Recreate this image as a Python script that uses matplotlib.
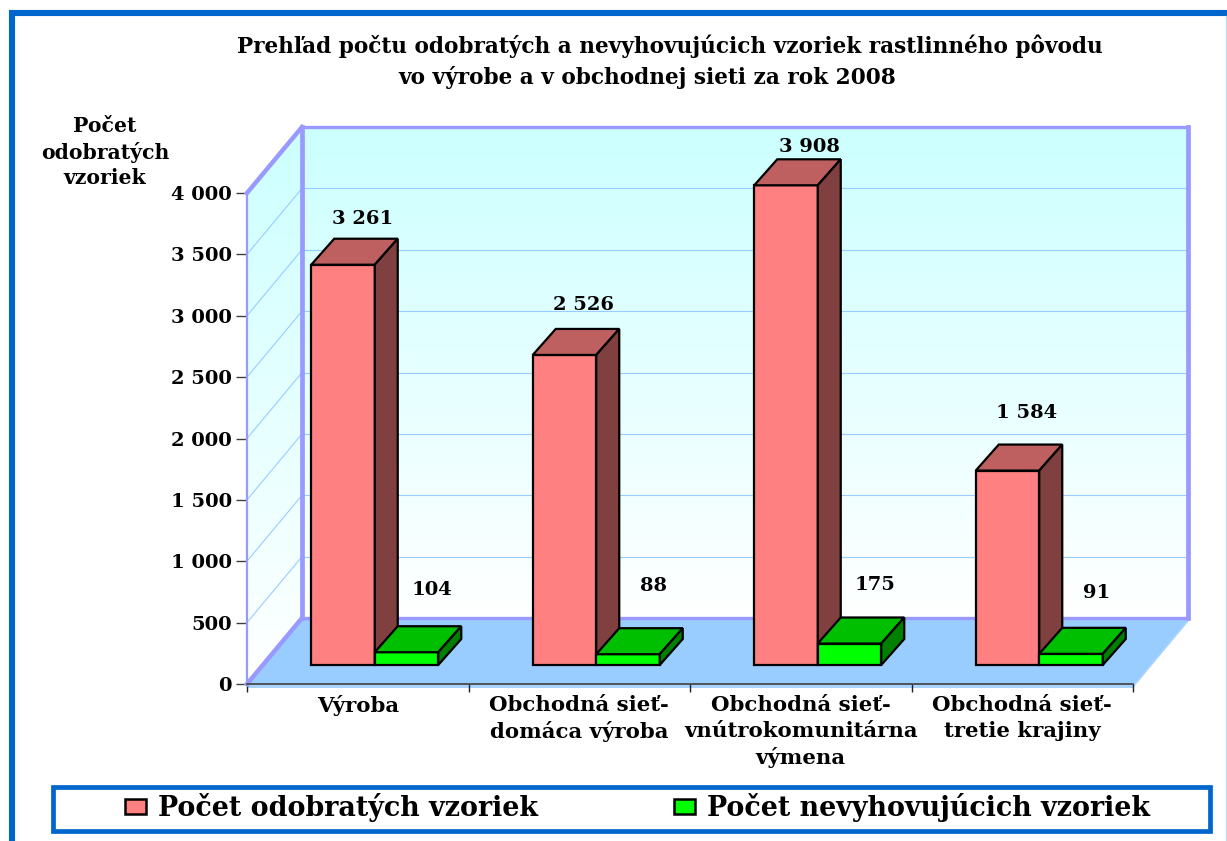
import matplotlib

matplotlib.use("Agg")
import matplotlib.pyplot as plt
import numpy as np
from matplotlib.patches import Polygon, Rectangle

CATEGORIES = [
    "Výroba",
    "Obchodná sieť-\ndomáca výroba",
    "Obchodná sieť-\nvnútrokomunitárna\nvýmena",
    "Obchodná sieť-\ntretie krajiny",
]
TAKEN_SAMPLES = [3261, 2526, 3908, 1584]
FAILED_SAMPLES = [104, 88, 175, 91]
TAKEN_LABELS = ["3 261", "2 526", "3 908", "1 584"]
FAILED_LABELS = ["104", "88", "175", "91"]
Y_TICKS = [0, 500, 1000, 1500, 2000, 2500, 3000, 3500, 4000]
Y_TICK_LABELS = ["0", "500", "1 000", "1 500", "2 000", "2 500", "3 000", "3 500", "4 000"]
TITLE_LINES = [
    "Prehľad počtu odobratých a nevyhovujúcich vzoriek rastlinného pôvodu",
    "vo výrobe a v obchodnej sieti za rok 2008",
]
Y_TITLE = "Počet\nodobratých\nvzoriek"
LEGEND_LABELS = ["Počet odobratých vzoriek", "Počet nevyhovujúcich vzoriek"]

W, H = 1227, 841
X0, X1 = 247, 1133
Y0, Y1 = 684, 193
PX_X = 4 / (X1 - X0)
PX_Y = 4000 / (Y0 - Y1)
WALL_DX, WALL_DY = 55 * PX_X, 66 * PX_Y
BAR_DX, BAR_DY = 23 * PX_X, 26 * PX_Y
BAR_WIDTH = 63.5 * PX_X
BAR_SHIFT_X, BAR_BASE = 17 * PX_X, 19 * PX_Y

# pixel offsets of the labels from the bars they belong to
TAKEN_GAPS = [20, 24, 12, 32]
FAILED_GAPS = [36, 42, 33, 35]
TAKEN_SHIFTS = [51, 51, 55, 51]

BORDER = "#0066CC"
WALL_EDGE = "#9999FF"
GRID = "#99CCFF"
FLOOR = "#99CCFF"
SERIF = "DejaVu Serif"


def box(ax, x, value, front, top, side):
    """Draw one 3D looking bar from its three visible faces."""
    left = x + BAR_SHIFT_X
    right = left + BAR_WIDTH
    base = BAR_BASE
    head = base + value
    faces = [
        ([(left, base), (right, base), (right, head), (left, head)], front),
        (
            [
                (left, head),
                (right, head),
                (right + BAR_DX, head + BAR_DY),
                (left + BAR_DX, head + BAR_DY),
            ],
            top,
        ),
        (
            [
                (right, base),
                (right + BAR_DX, base + BAR_DY),
                (right + BAR_DX, head + BAR_DY),
                (right, head),
            ],
            side,
        ),
    ]
    for points, color in faces:
        ax.add_patch(
            Polygon(
                points,
                facecolor=color,
                edgecolor="black",
                lw=1.6,
                zorder=5,
                joinstyle="miter",
                clip_on=False,
            )
        )
    return left


def draw_walls(fig, ax):
    gradient = np.linspace(0, 1, 256).reshape(-1, 1)
    cmap = matplotlib.colors.LinearSegmentedColormap.from_list("wall", ["#CCFFFF", "#FFFFFF"])
    ax.imshow(
        gradient,
        cmap=cmap,
        aspect="auto",
        extent=(WALL_DX, 4 + WALL_DX, WALL_DY, 4000 + WALL_DY),
        zorder=0,
        clip_on=False,
    )
    side = Polygon(
        [(0, 0), (WALL_DX, WALL_DY), (WALL_DX, 4000 + WALL_DY), (0, 4000)],
        transform=ax.transData,
        facecolor="none",
        edgecolor="none",
        clip_on=False,
    )
    ax.add_patch(side)
    side_image = ax.imshow(
        gradient,
        cmap=cmap,
        aspect="auto",
        extent=(0, WALL_DX, 0, 4000 + WALL_DY),
        zorder=0,
    )
    side_image.set_clip_box(fig.bbox)
    side_image.set_clip_path(side)

    # floor with a thin slab showing below and right of it
    slab = 4 * PX_Y
    ax.add_patch(
        Polygon(
            [
                (0, -slab),
                (4, -slab),
                (4 + WALL_DX, WALL_DY - slab),
                (4 + WALL_DX, WALL_DY),
                (WALL_DX, WALL_DY),
                (0, 0),
            ],
            facecolor="#A8D2FF",
            edgecolor="none",
            zorder=1,
            clip_on=False,
        )
    )
    ax.add_patch(
        Polygon(
            [(0, 0), (WALL_DX, WALL_DY), (4 + WALL_DX, WALL_DY), (4, 0)],
            facecolor=FLOOR,
            edgecolor=FLOOR,
            lw=1,
            zorder=1,
            clip_on=False,
        )
    )
    for tick in Y_TICKS[1:]:
        ax.plot([WALL_DX, 4 + WALL_DX], [tick + WALL_DY] * 2, color=GRID, lw=0.8, zorder=1, clip_on=False)
        ax.plot([0, WALL_DX], [tick, tick + WALL_DY], color=GRID, lw=0.8, zorder=1, clip_on=False)
    edge = dict(color=WALL_EDGE, zorder=2, clip_on=False, solid_joinstyle="miter")
    ax.plot([WALL_DX, 4 + WALL_DX], [4000 + WALL_DY] * 2, lw=2.4, **edge)
    ax.plot([WALL_DX, 4 + WALL_DX], [WALL_DY, WALL_DY], lw=2.4, **edge)
    ax.plot([WALL_DX, WALL_DX], [WALL_DY, 4000 + WALL_DY], lw=3.4, **edge)
    ax.plot([4 + WALL_DX, 4 + WALL_DX], [WALL_DY, 4000 + WALL_DY], lw=3.4, **edge)
    ax.plot([0, WALL_DX], [0, WALL_DY], lw=3.2, **edge)
    ax.plot([0, WALL_DX], [4000, 4000 + WALL_DY], lw=3.2, **edge)
    ax.plot([0, 0], [0, 4000], lw=1.6, **edge)


def draw_frame(fig):
    frame = fig.add_axes([0, 0, 1, 1], zorder=-1)
    frame.set_xlim(0, W)
    frame.set_ylim(H, 0)
    frame.axis("off")
    frame.add_patch(Rectangle((11.7, 13.3), W + 20, H + 20, facecolor="white", edgecolor=BORDER, lw=4.4))
    frame.plot([1225.5, 1225.5], [16, H], color="#BBDDF8", lw=1)
    frame.add_patch(
        Rectangle((52.5, 786.5), 1157, 44, facecolor="white", edgecolor=BORDER, lw=3.4, joinstyle="miter")
    )
    frame.add_patch(Rectangle((125, 799), 21, 15, facecolor="#FF8080", edgecolor="black", lw=1.8))
    frame.add_patch(Rectangle((674, 799), 21, 15, facecolor="#00FF00", edgecolor="black", lw=1.8))
    legend_text = dict(family=SERIF, weight="bold", fontsize=19.4, va="center", ha="left")
    frame.text(158, 807, LEGEND_LABELS[0], **legend_text)
    frame.text(707, 807, LEGEND_LABELS[1], **legend_text)
    title_text = dict(family=SERIF, weight="bold", fontsize=15.6, ha="center", va="center")
    frame.text(670, 46, TITLE_LINES[0], **title_text)
    frame.text(647, 77, TITLE_LINES[1], **title_text)
    frame.text(
        105, 152, Y_TITLE, family=SERIF, weight="bold", fontsize=14.7,
        ha="center", va="center", linespacing=1.35,
    )


def main():
    fig = plt.figure(figsize=(W / 100, H / 100), dpi=100, facecolor="white")
    draw_frame(fig)
    ax = fig.add_axes([X0 / W, 1 - Y0 / H, (X1 - X0) / W, (Y0 - Y1) / H])
    ax.patch.set_visible(False)
    draw_walls(fig, ax)

    text_style = dict(family=SERIF, weight="bold", fontsize=14, ha="center", va="center", zorder=8, clip_on=False)
    for i, (taken, failed) in enumerate(zip(TAKEN_SAMPLES, FAILED_SAMPLES)):
        x = i + (1 - 2 * BAR_WIDTH) / 2
        left = box(ax, x, taken, "#FF8080", "#BF6060", "#804040")
        box(ax, x + BAR_WIDTH, failed, "#00FF00", "#00BF00", "#008000")
        top = BAR_BASE + BAR_DY
        ax.text(left + TAKEN_SHIFTS[i] * PX_X, top + taken + TAKEN_GAPS[i] * PX_Y, TAKEN_LABELS[i], **text_style)
        ax.text(left + BAR_WIDTH + 57 * PX_X, top + failed + FAILED_GAPS[i] * PX_Y, FAILED_LABELS[i], **text_style)

    ax.set_xlim(0, 4)
    ax.set_ylim(0, 4000)
    for name in ("top", "right", "left"):
        ax.spines[name].set_visible(False)
    ax.spines["bottom"].set_color("#404040")
    ax.spines["bottom"].set_linewidth(1.2)
    ax.spines["bottom"].set_zorder(3)
    ax.set_yticks(Y_TICKS, Y_TICK_LABELS, family=SERIF, weight="bold", fontsize=14)
    ax.set_xticks(range(5), [""] * 5)
    ax.set_xticks(
        np.arange(4) + 0.5,
        CATEGORIES,
        minor=True,
        family=SERIF,
        weight="bold",
        fontsize=15.3,
        linespacing=1.37,
    )
    ax.tick_params(axis="x", which="major", length=6, width=1, color="#202020")
    ax.tick_params(axis="x", which="minor", length=0, pad=8)
    ax.tick_params(axis="y", length=8, width=1, color="#404040", pad=3)
    fig.savefig("out.png", dpi=100)


if __name__ == "__main__":
    main()
